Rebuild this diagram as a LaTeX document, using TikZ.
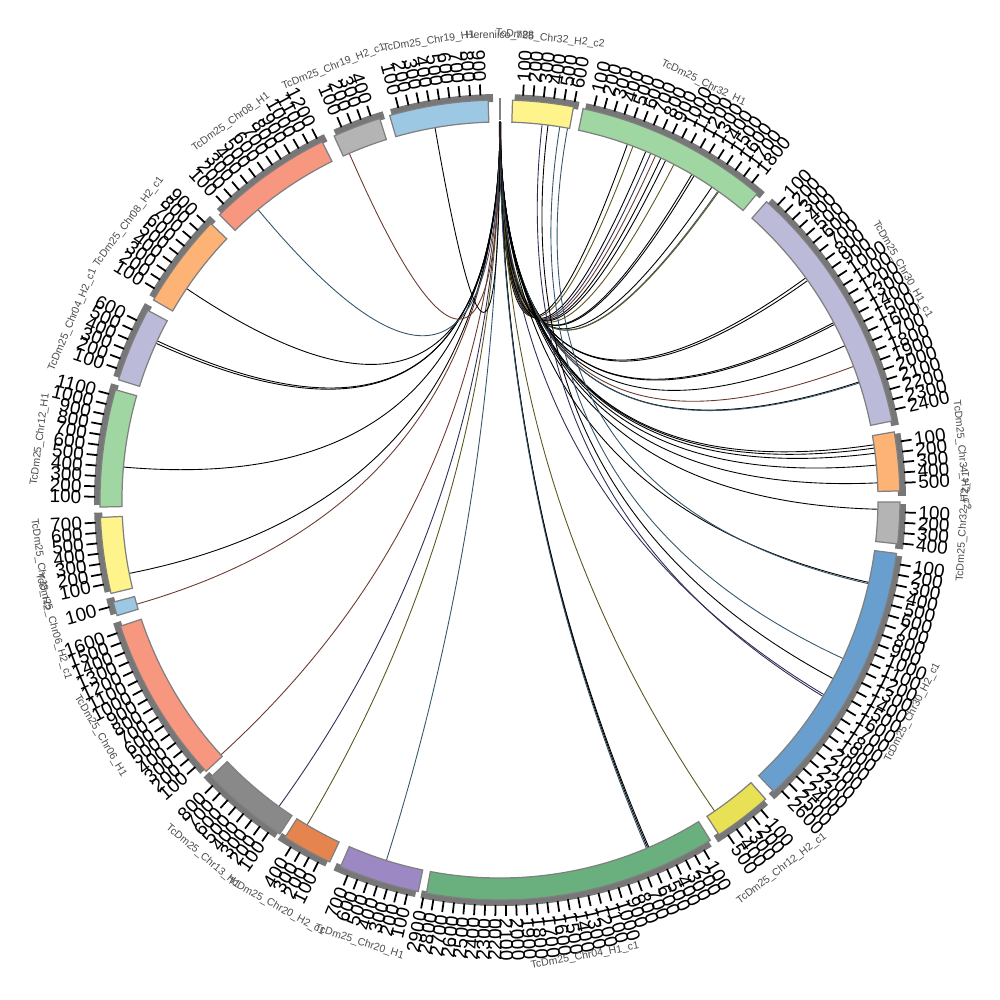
\documentclass[tikz,border=0pt]{standalone}
\usepackage{fontspec}
\setmainfont{Liberation Sans}
\definecolor{cLY}{HTML}{FFF38C}
\definecolor{cLG}{HTML}{A0D6A2}
\definecolor{cLV}{HTML}{BCBAD9}
\definecolor{cOR}{HTML}{FDB375}
\definecolor{cGY}{HTML}{B4B4B4}
\definecolor{cBL}{HTML}{689FCF}
\definecolor{cYE}{HTML}{E9E155}
\definecolor{cGR}{HTML}{69B07E}
\definecolor{cPU}{HTML}{9C89C4}
\definecolor{cRD}{HTML}{E5844F}
\definecolor{cDG}{HTML}{898989}
\definecolor{cSA}{HTML}{F8977F}
\definecolor{cLB}{HTML}{9CC8E3}
\definecolor{band}{HTML}{777777}
\definecolor{lkT}{HTML}{35566A}
\definecolor{lkO}{HTML}{5C5520}
\definecolor{lkR}{HTML}{6A3A30}
\definecolor{lkB}{HTML}{2E2E55}
\begin{document}
\begin{tikzpicture}[x=0.01cm,y=0.01cm,
  sectorbox/.style={draw=black!50, line width=0.35pt},
  tickmark/.style={draw=black, line width=0.5pt},
  ticklabel/.style={font=\fontsize{5.4}{5.4}\selectfont, inner sep=0pt, text=black},
  namelabel/.style={font=\fontsize{3}{3}\selectfont, inner sep=0pt, text=black!70},
  linkline/.style={line width=0.25pt, black!85}]
\fill[white] (-500,-500) rectangle (500,500);
\useasboundingbox (-500,-500) rectangle (500,500);

% links (quadratic Bezier through the centre)
\foreach \ls/\lt/\lc [count=\j] in {
 0/19.7/black, 0.05/20.6/lkO, -0.05/22.7/black, 0.1/23.5/lkB, 0/24.3/lkR,
 0.1/25.2/black, -0.1/26/black, 0.05/27.4/lkO, 0/30.5/black, 0.1/30.9/black,
 0/34.1/black, 0.05/35.2/lkT, 0.1/35.35/lkO,
 0/54/black, 0.06/54.5/black, 0/62/black, 0.06/62.3/black, 0/65.9/black,
 0/69.3/lkR, 0/71.8/black, 0.06/71.95/lkT,
 0/81.6/black, 0/82.1/black, 0.05/82.9/black, 0/84.7/black, 0/87.4/black,
 0/91.4/black,
 0/102.6/black, 10.3/102.8/lkT, 9.1/114.8/lkT, 7.3/118.2/black, 0/121/lkB, 6.4/121.3/lkB,
 0/145.4/lkO,
 0/156.8/black, 0.05/157/black, -0.05/157.2/lkT,
 0/197.5/lkT, 0/210.7/lkO, 0/215.8/lkB, 0/227.6/lkR, 0/254/lkR, 0/258.8/black,
 0/275/black, 0/294.5/black, 0.05/294.9/black, 0/304/black, 0/320.2/lkT,
 0/336.5/lkR, 0/350.1/black}{
  \pgfmathsetmacro\la{90-\ls}
  \pgfmathsetmacro\lb{90-\lt}
  \coordinate (ls\j) at (\la:378);
  \coordinate (lt\j) at (\lb:378);
  \draw[linkline, \lc] (ls\j) .. controls (\la:126) and (\lb:126) .. (lt\j);
}

% sectors
\foreach \sa/\sb/\col/\n/\lab [count=\i] in {
 1.8/10.6/cLY/6/TcDm25\_Chr32\_H2\_c2,
 12/40/cLG/18/TcDm25\_Chr32\_H1,
 41.8/78.6/cLV/24/TcDm25\_Chr30\_H1\_c1,
 80.2/88.7/cOR/5/TcDm25\_Chr34\_H2\_c2,
 90.3/96.3/cGY/4/TcDm25\_Chr32\_H2\_c1,
 97.7/136.8/cBL/26/TcDm25\_Chr30\_H2\_c1,
 138.4/146.8/cYE/5/TcDm25\_Chr12\_H2\_c1,
 148.3/190.6/cGR/29/TcDm25\_Chr04\_H1\_c1,
 191.8/203.5/cPU/7/TcDm25\_Chr20\_H1,
 205.2/212.5/cRD/4/TcDm25\_Chr20\_H2\_c1,
 213.4/226.2/cDG/8/TcDm25\_Chr13\_H1,
 227.3/251.6/cSA/16/TcDm25\_Chr06\_H1,
 253.2/255.2/cLB/1/TcDm25\_Chr06\_H2\_c1,
 256.5/267.5/cLY/7/TcDm25\_Chr18\_H2,
 269/286/cLG/11/TcDm25\_Chr12\_H1,
 287.5/298.3/cLV/6/TcDm25\_Chr04\_H2\_c1,
 300/313.7/cOR/9/TcDm25\_Chr08\_H2\_c1,
 315.5/333.6/cSA/12/TcDm25\_Chr08\_H1,
 335.5/342.5/cGY/4/TcDm25\_Chr19\_H2\_c1,
 344/358.3/cLB/9/TcDm25\_Chr19\_H1}{
  \pgfmathsetmacro\angA{90-\sa}
  \pgfmathsetmacro\angB{90-\sb}
  \pgfmathsetmacro\bandA{90-\sa-0.3}
  \pgfmathsetmacro\bandB{90-\sb-0.7}
  \fill[band] (\bandA:398) arc[start angle=\bandA, end angle=\bandB, radius=3.98cm]
    -- (\bandB:406) arc[start angle=\bandB, end angle=\bandA, radius=4.06cm] -- cycle;
  \filldraw[sectorbox, fill=\col] (\angA:378) arc[start angle=\angA, end angle=\angB, radius=3.78cm]
    -- (\angB:400) arc[start angle=\angB, end angle=\angA, radius=4cm] -- cycle;
  \foreach \k in {1,...,\n}{
    \pgfmathsetmacro\tk{\sa+1.47*\k}
    \pgfmathsetmacro\ta{90-\tk}
    \pgfmathsetmacro\tb{\ta+180}
    \pgfmathtruncatemacro\lft{\tk>180}
    \pgfmathtruncatemacro\val{100*\k}
    \draw[tickmark] (\ta:405) -- (\ta:416);
    \ifnum\lft=1
      \node[ticklabel, anchor=east, rotate=\tb] (tk\i-\k) at (\ta:418) {\val};
    \else
      \node[ticklabel, anchor=west, rotate=\ta] (tk\i-\k) at (\ta:418) {\val};
    \fi
  }
  \pgfmathsetmacro\midA{(\sa+\sb)/2}
  \pgfmathsetmacro\mang{90-\midA}
  \pgfmathtruncatemacro\flip{(\midA>90)&&(\midA<270)}
  \ifnum\flip=1 \pgfmathsetmacro\rot{180-\midA}\else\pgfmathsetmacro\rot{-\midA}\fi
  \node[namelabel, rotate=\rot] (nm\i) at (\mang:464) {\lab};
}

% tiny segment at the top
\draw[black!50, line width=0.4pt] (90:380) coordinate (tinyA) -- (90:402) coordinate (tinyB);
\node[namelabel] (nm0) at (90:464) {Hereniico\_788};
\end{tikzpicture}
\end{document}
